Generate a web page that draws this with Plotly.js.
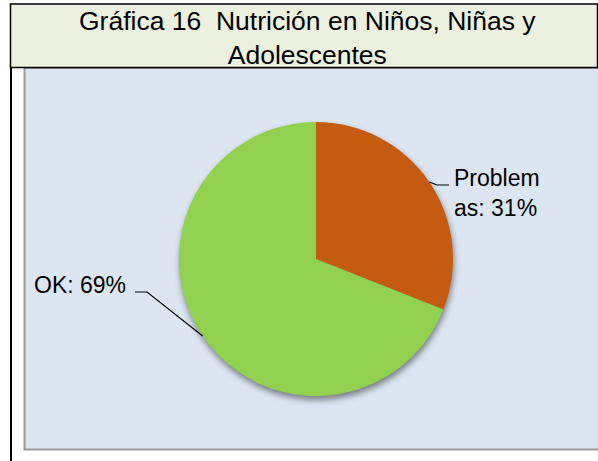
<!DOCTYPE html>
<html>
<head>
<meta charset="utf-8">
<script src="https://cdn.plot.ly/plotly-3.0.1.min.js"></script>
<style>
  html, body { margin: 0; padding: 0; background: #ffffff; }
  #chart { width: 598px; height: 461px; }
  #chart .pielayer { filter: drop-shadow(1px 4px 3px rgba(0,0,0,0.45)); }
</style>
</head>
<body>
<div id="chart"></div>
<script>
// ---- data ----
const categories = ['Problemas', 'OK'];
const values = [31, 69];
const sliceColors = ['#c55a11', '#92d050'];
const labelTexts = ['Problem<br>as: 31%', 'OK: 69%'];
const chartTitle = 'Gráfica 16  Nutrición en Niños, Niñas y<br>Adolescentes';

// ---- layout constants (pixels) ----
const W = 598, H = 461;
const px = x => x / W;
const py = y => 1 - y / H;
const pieBox = { x0: 179, x1: 453, y0: 122, y1: 396 };
// label placement
const labelPlace = [
  { x: 452, y: 193, xanchor: 'left',  endX: 449, lineY: 185, elbowX: 437 },
  { x: 128, y: 285, xanchor: 'right', endX: 135, lineY: 292, elbowX: 147 }
];

const font = 'Liberation Sans, Arial, sans-serif';

// pie geometry (same as plotly's: centre of domain, radius = half the min side)
const cx = (pieBox.x0 + pieBox.x1) / 2;
const cy = (pieBox.y0 + pieBox.y1) / 2;
const r = Math.min(pieBox.x1 - pieBox.x0, pieBox.y1 - pieBox.y0) / 2;
const total = values.reduce((a, b) => a + b, 0);

const shapes = [
  // blue chart area
  { type: 'rect', xref: 'paper', yref: 'paper', x0: px(24.5), x1: px(620), y0: py(449.5), y1: py(68),
    fillcolor: '#dce6f2', line: { color: '#9a9a9a', width: 2 }, layer: 'below' },
  // title band
  { type: 'rect', xref: 'paper', yref: 'paper', x0: px(10.5), x1: px(597.5), y0: py(67.5), y1: py(4),
    fillcolor: '#ebf1de', line: { color: '#000000', width: 1.5 }, layer: 'below' },
  // left border line
  { type: 'line', xref: 'paper', yref: 'paper', x0: px(11), x1: px(11), y0: py(67), y1: py(470),
    line: { color: '#000000', width: 2 }, layer: 'below' }
];

const annotations = [
  { xref: 'paper', yref: 'paper', x: px(307), y: py(38.5), xanchor: 'center', yanchor: 'middle',
    text: chartTitle, showarrow: false, font: { family: font, size: 26.5, color: '#000000' } }
];

let cum = 0;
values.forEach((v, i) => {
  const mid = (cum + v / 2) / total * 2 * Math.PI;   // clockwise from 12 o'clock
  cum += v;
  const ex = cx + r * Math.sin(mid);
  const ey = cy - r * Math.cos(mid);
  const L = labelPlace[i];
  shapes.push({
    type: 'path', xref: 'paper', yref: 'paper',
    path: `M ${px(ex)} ${py(ey)} L ${px(L.elbowX)} ${py(L.lineY)} L ${px(L.endX)} ${py(L.lineY)}`,
    line: { color: '#000000', width: 1.2 }
  });
  annotations.push({
    xref: 'paper', yref: 'paper', x: px(L.x), y: py(L.y), xanchor: L.xanchor, yanchor: 'middle',
    align: 'left', text: labelTexts[i], showarrow: false,
    font: { family: font, size: 23, color: '#000000' }
  });
});

const trace = {
  type: 'pie',
  labels: categories,
  values: values,
  sort: false,
  direction: 'clockwise',
  rotation: 0,
  marker: { colors: sliceColors, line: { width: 0 } },
  textinfo: 'none',
  hoverinfo: 'label+percent',
  showlegend: false,
  domain: { x: [px(pieBox.x0), px(pieBox.x1)], y: [py(pieBox.y1), py(pieBox.y0)] }
};

const layout = {
  width: W, height: H,
  margin: { l: 0, r: 0, t: 0, b: 0 },
  paper_bgcolor: '#ffffff',
  plot_bgcolor: 'rgba(0,0,0,0)',
  showlegend: false,
  shapes: shapes,
  annotations: annotations,
  font: { family: font }
};

Plotly.newPlot('chart', [trace], layout, { displayModeBar: false, staticPlot: true });
</script>
</body>
</html>
